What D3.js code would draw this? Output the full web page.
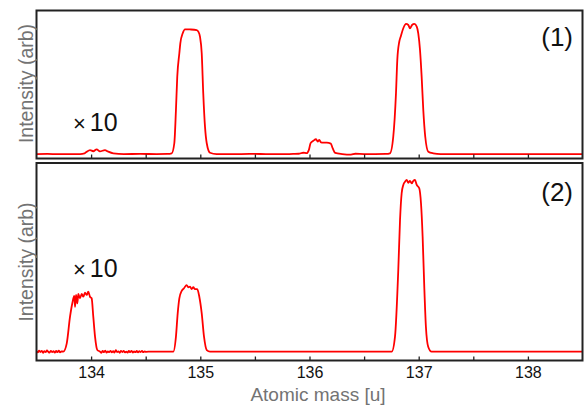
<!DOCTYPE html>
<html>
<head>
<meta charset="utf-8">
<script src="https://cdn.jsdelivr.net/npm/d3@7"></script>
<style>
  html, body { margin: 0; padding: 0; background: #fff; }
  svg { display: block; }
  svg text { font-family: Arial, "Liberation Sans", Helvetica, sans-serif; }
</style>
</head>
<body>
<svg id="chart" width="584" height="408"></svg>
<script>
// ---------- DATA ----------
const xDomain = [133.5, 138.5];
const tickValues = [134, 134.5, 135, 135.5, 136, 136.5, 137, 137.5, 138];
const tickLabels = [134, 135, 136, 137, 138];
const panelLabels = ["(1)", "(2)"];
const scaleNote = "×10";
const xTitle = "Atomic mass [u]";
const yTitle = "Intensity (arb)";

// Panel (1): [atomic mass, intensity (0-100 arb)]
const spectrum1 = [
  [133.50,3.0],[133.60,3.1],[133.70,2.9],[133.80,3.0],[133.90,3.0],[133.94,3.4],
  [133.96,4.6],[133.99,5.7],[134.02,4.9],[134.051,6.2],[134.081,4.8],[134.127,5.7],
  [134.155,4.7],[134.203,3.5],[134.30,3.0],[134.45,3.1],[134.60,3.0],[134.70,3.1],
  [134.738,3.5],[134.762,10.3],[134.777,32.8],[134.789,55.3],[134.808,71.1],[134.817,77.8],
  [134.839,84.6],[134.860,87.3],[134.906,87.2],[134.967,86.8],[134.982,85.7],[134.997,82.3],
  [135.013,71.1],[135.027,44.1],[135.043,21.5],[135.059,10.3],[135.089,3.9],
  [135.15,3.0],[135.30,2.9],[135.45,3.1],[135.60,3.0],[135.75,2.9],[135.85,3.1],[135.90,3.2],
  [135.943,3.9],[135.975,3.6],[135.995,6.0],[136.010,10.4],[136.035,12.0],[136.060,13.0],[136.075,11.4],
  [136.090,12.5],[136.105,10.9],[136.126,10.7],[136.158,10.7],[136.195,10.1],[136.212,7.0],
  [136.235,3.8],[136.30,3.0],[136.38,2.6],[136.42,3.2],[136.50,3.0],[136.60,3.0],[136.70,3.1],
  [136.737,3.5],[136.767,14.7],[136.792,44.1],[136.804,66.6],[136.822,78.9],[136.835,82.3],
  [136.859,88.0],[136.884,90.9],[136.905,90.2],[136.920,88.0],[136.939,90.2],[136.960,90.9],
  [136.982,89.1],[136.996,84.6],[137.012,73.3],[137.027,55.3],[137.042,32.8],[137.060,14.7],
  [137.088,4.6],[137.134,3.5],[137.20,3.0],[137.50,3.0],[137.80,3.0],[138.10,3.0],[138.50,3.0]
];

// Panel (2): [atomic mass, intensity (0-100 arb)]
const spectrum2 = [
  [133.500,4.6],[133.512,4.1],[133.524,5.0],[133.536,4.3],[133.548,4.8],[133.560,3.9],
  [133.572,4.7],[133.584,4.2],[133.596,5.1],[133.608,4.4],[133.620,4.0],[133.632,4.9],
  [133.644,4.3],[133.656,4.7],[133.668,4.0],[133.680,4.8],[133.692,4.2],[133.704,5.0],
  [133.716,4.1],[133.728,4.6],[133.745,4.5],
  [133.777,8.7],[133.807,22.2],[133.828,29.0],[133.846,32.7],[133.853,27.2],[133.862,33.2],
  [133.874,29.0],[133.883,33.7],[133.898,31.5],[133.914,33.7],[133.929,32.3],[133.944,34.3],
  [133.960,33.2],[133.974,34.8],[133.990,32.3],[134.005,31.5],[134.020,22.2],[134.036,12.1],
  [134.057,5.3],[134.082,4.5],
  [134.094,3.9],[134.106,4.8],[134.118,4.2],[134.130,5.0],[134.142,4.0],[134.154,4.6],
  [134.166,4.2],[134.178,4.9],[134.190,4.1],[134.202,4.7],[134.214,4.0],[134.226,5.2],
  [134.238,4.3],[134.250,4.6],[134.262,3.9],[134.274,4.8],[134.286,4.3],[134.298,4.9],
  [134.310,4.1],[134.322,4.5],[134.334,4.0],[134.346,4.8],[134.358,4.2],[134.370,4.9],
  [134.382,4.0],[134.394,4.6],[134.406,4.2],[134.418,4.8],[134.430,4.1],[134.442,4.7],
  [134.454,4.3],[134.466,4.8],[134.478,4.2],[134.490,4.6],[134.502,4.4],
  [134.55,4.5],[134.65,4.5],[134.753,4.5],
  [134.777,12.1],[134.793,23.9],[134.808,31.5],[134.830,35.3],[134.851,36.6],[134.875,38.2],
  [134.890,37.1],[134.906,37.4],[134.921,36.2],[134.936,37.1],[134.951,36.1],[134.972,36.1],
  [134.991,32.3],[135.013,23.9],[135.034,12.1],[135.059,5.3],[135.089,4.5],
  [135.30,4.5],[135.60,4.5],[135.90,4.5],[136.20,4.5],[136.50,4.5],[136.753,4.5],
  [136.783,12.1],[136.813,45.8],[136.829,71.1],[136.844,84.7],[136.859,88.9],[136.875,90.5],
  [136.890,91.4],[136.905,90.0],[136.920,91.0],[136.936,89.7],[136.951,91.0],[136.966,91.4],
  [136.982,88.9],[137.005,87.2],[137.021,79.6],[137.036,62.7],[137.051,37.4],[137.066,17.1],
  [137.087,7.0],[137.118,4.5],[137.40,4.5],[137.80,4.5],[138.20,4.5],[138.50,4.5]
];

const spectra = [spectrum1, spectrum2];

// ---------- LAYOUT ----------
const svg = d3.select("#chart");
const x = d3.scaleLinear().domain(xDomain).range([36.5, 582.5]);
const panels = [
  { top: 10.5, bottom: 158.5, labelY: 46, noteY: 130.5, titleY: 83.5, showLabels: false },
  { top: 163, bottom: 360.5, labelY: 200.5, noteY: 276.5, titleY: 262, showLabels: true }
];

panels.forEach((p, i) => {
  const y = d3.scaleLinear().domain([0, 100]).range([p.bottom, p.top]);
  const g = svg.append("g");

  const line = d3.line()
    .x(d => x(d[0]))
    .y(d => y(d[1]))
    .curve(d3.curveMonotoneX);
  g.append("path")
    .datum(spectra[i])
    .attr("fill", "none")
    .attr("stroke", "#ff0000")
    .attr("stroke-width", 1.8)
    .attr("stroke-linejoin", "round")
    .attr("d", line);

  const axis = d3.axisBottom(x)
    .tickValues(tickValues)
    .tickSize(-4)
    .tickSizeOuter(0)
    .tickPadding(6)
    .tickFormat(d => (p.showLabels && tickLabels.includes(d)) ? d3.format("d")(d) : "");
  const ag = g.append("g")
    .attr("transform", `translate(0,${p.bottom})`)
    .call(axis);
  ag.attr("font-family", "Arial, 'Liberation Sans', sans-serif").attr("font-size", 16);
  ag.select(".domain").remove();
  ag.selectAll(".tick line").attr("stroke", "#222").attr("stroke-width", 1.3);
  ag.selectAll(".tick text")
    .attr("fill", "#111")
    .style("font-size", "16px");

  g.append("rect")
    .attr("x", x.range()[0])
    .attr("y", p.top)
    .attr("width", x.range()[1] - x.range()[0])
    .attr("height", p.bottom - p.top)
    .attr("fill", "none")
    .attr("stroke", "#222")
    .attr("stroke-width", 2);

  g.append("text")
    .attr("x", 573)
    .attr("y", p.labelY)
    .attr("text-anchor", "end")
    .attr("fill", "#111")
    .style("font-size", "26px")
    .text(panelLabels[i]);

  const note = g.append("text")
    .attr("x", 73)
    .attr("y", p.noteY)
    .attr("fill", "#111")
    .style("font-size", "25px");
  note.append("tspan").style("font-size", "22px").text(scaleNote.slice(0, 1));
  note.append("tspan").attr("dx", 4).text(scaleNote.slice(1));

  g.append("text")
    .attr("transform", `translate(33,${p.titleY}) rotate(-90)`)
    .attr("text-anchor", "middle")
    .attr("fill", "#737373")
    .style("font-size", "19.5px")
    .text(yTitle);
});

svg.append("text")
  .attr("x", 318)
  .attr("y", 400.5)
  .attr("text-anchor", "middle")
  .attr("fill", "#737373")
  .style("font-size", "19px")
  .text(xTitle);
</script>
</body>
</html>
